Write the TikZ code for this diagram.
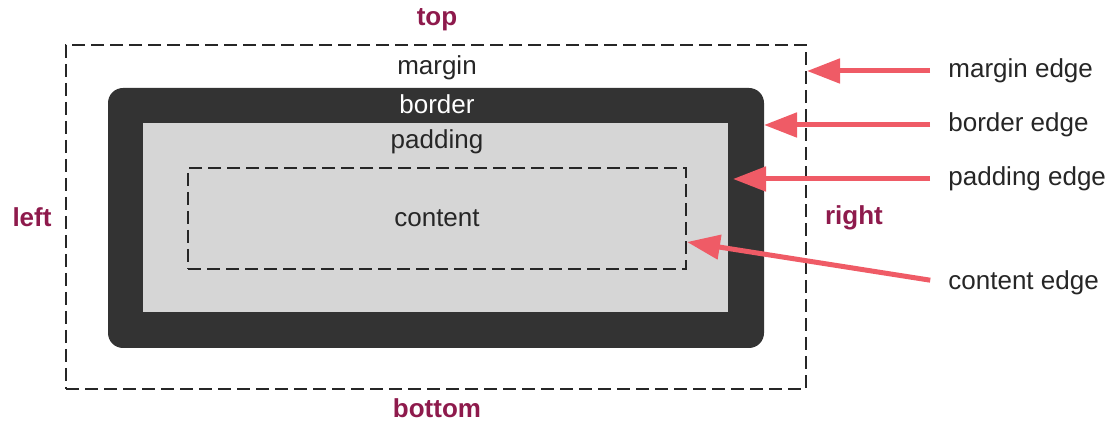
\documentclass[tikz,border=0pt]{standalone}
\usepackage{fontspec}
\setmainfont{Liberation Sans}
\usetikzlibrary{arrows.meta}

\definecolor{sidered}{HTML}{8E1A4C}
\definecolor{arrowred}{HTML}{EF5B66}
\definecolor{borderdark}{HTML}{333333}
\definecolor{paddinggray}{HTML}{D6D6D6}

\tikzset{
  txt/.style={inner sep=0pt,font=\fontsize{13}{15}\selectfont,text=black!85},
  sidelabel/.style={txt,font=\fontsize{13}{15}\selectfont\bfseries,text=sidered},
  dashbox/.style={draw=black!85,line width=1.2pt,dash pattern=on 6.5pt off 3pt,
    inner sep=0pt,outer sep=0pt},
  edgearrow/.style={draw=arrowred,line width=2.5pt,
    -{Triangle[length=16.5pt,width=12pt]},shorten <=9pt}
}

\begin{document}
\begin{tikzpicture}[x=0.5pt,y=-0.5pt]
  \useasboundingbox (0,0) rectangle (1110,421);

  % the four boxes, outside in
  \node[dashbox,minimum width=370pt,minimum height=172pt] (marginbox) at (436,217) {};
  \node[fill=borderdark,rounded corners=7.5pt,inner sep=0pt,outer sep=0pt,
        minimum width=328pt,minimum height=130pt] (borderbox) at (436,218) {};
  \node[fill=paddinggray,inner sep=0pt,outer sep=0pt,
        minimum width=292.5pt,minimum height=94.5pt] (paddingbox) at (435.5,217.5) {};
  \node[dashbox,minimum width=249pt,minimum height=50.5pt] (contentbox) at (437,218.5) {};

  % box names
  \node[txt] (margin) at (437,68) {margin};
  \node[txt,text=white] (border) at (437,104) {border};
  \node[txt] (padding) at (437,142) {padding};
  \node[txt] (content) at (437,218) {content};

  % sides
  \node[sidelabel] (top) at (437,20) {top};
  \node[sidelabel] (bottom) at (437,408) {bottom};
  \node[sidelabel] (left) at (32,217) {left};
  \node[sidelabel] (right) at (854,218) {right};

  % edge labels and arrows
  \node[txt,anchor=west] (medge) at (948,71) {margin edge};
  \node[txt,anchor=west] (bedge) at (948,125) {border edge};
  \node[txt,anchor=west] (pedge) at (948,179) {padding edge};
  \node[txt,anchor=west] (cedge) at (948,283) {content edge};
  \coordinate (mtip) at (807,71);
  \coordinate (btip) at (764,125);
  \coordinate (ptip) at (733,179);
  \coordinate (ctip) at (687,242);
  \draw[edgearrow] (medge.west) -- (mtip);
  \draw[edgearrow] (bedge.west) -- (btip);
  \draw[edgearrow] (pedge.west) -- (ptip);
  \draw[edgearrow] (cedge.west) -- (ctip);
\end{tikzpicture}
\end{document}
